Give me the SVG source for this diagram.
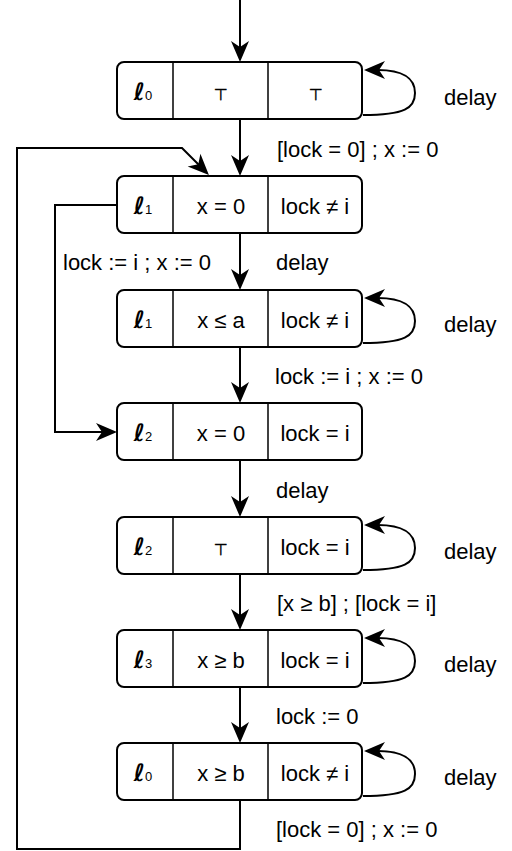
<svg xmlns="http://www.w3.org/2000/svg" width="512" height="851" viewBox="0 0 512 851">
<style>
.box{fill:#fff;stroke:#000;stroke-width:2}
.div{stroke:#000;stroke-width:1.5}
.t{font-family:"Liberation Sans",Arial,sans-serif;font-size:22px;fill:#000}
.m{text-anchor:middle}
.top{font-family:"DejaVu Sans",sans-serif;font-size:16px;text-anchor:middle;fill:#000;stroke:#000;stroke-width:0.4}
.ell{font-family:"DejaVu Sans",sans-serif;font-size:24px;font-style:italic;font-weight:bold;text-anchor:middle;fill:#000}
.sub{font-family:"Liberation Sans",Arial,sans-serif;font-size:13px;font-style:normal;font-weight:normal}
.e{fill:none;stroke:#000;stroke-width:2}
</style>
<defs>
<marker id="a" viewBox="-22 -10 23 20" markerWidth="23" markerHeight="20" refX="-14" refY="0" orient="auto" markerUnits="userSpaceOnUse">
<path d="M0,0 L-21,-9 L-15,0 L-21,9 Z" fill="#000"/>
</marker>
</defs>
<g id="connectors">
<path class="e" d="M240,0 V48" marker-end="url(#a)"/>
<path class="e" d="M240,119 V162" marker-end="url(#a)"/>
<path class="e" d="M240,233 V276" marker-end="url(#a)"/>
<path class="e" d="M240,347 V389" marker-end="url(#a)"/>
<path class="e" d="M240,460 V503" marker-end="url(#a)"/>
<path class="e" d="M240,574 V616" marker-end="url(#a)"/>
<path class="e" d="M240,687 V729" marker-end="url(#a)"/>
<path class="e" d="M240,800 V849 H17 V148 H182 L199,165" marker-end="url(#a)"/>
<path class="e" d="M117,205 H55 V432 H103" marker-end="url(#a)"/>
<path class="e" d="M363,115 C405,115 415,108 415,93 C415,78 402,70 378,70" marker-end="url(#a)"/>
<path class="e" d="M363,343 C405,343 415,336 415,321 C415,306 402,298 378,298" marker-end="url(#a)"/>
<path class="e" d="M363,570 C405,570 415,563 415,548 C415,533 402,525 378,525" marker-end="url(#a)"/>
<path class="e" d="M363,683 C405,683 415,676 415,661 C415,646 402,638 378,638" marker-end="url(#a)"/>
<path class="e" d="M363,796 C405,796 415,789 415,774 C415,759 402,751 378,751" marker-end="url(#a)"/>
<text class="t" x="277" y="157">[lock = 0] ; x := 0</text>
<text class="t" x="63" y="270">lock := i ; x := 0</text>
<text class="t" x="276" y="270">delay</text>
<text class="t" x="275" y="384">lock := i ; x := 0</text>
<text class="t" x="276" y="498">delay</text>
<text class="t" x="277" y="611">[x ≥ b] ; [lock = i]</text>
<text class="t" x="276" y="724">lock := 0</text>
<text class="t" x="276" y="837">[lock = 0] ; x := 0</text>
<text class="t" x="444" y="105">delay</text>
<text class="t" x="444" y="332">delay</text>
<text class="t" x="444" y="559">delay</text>
<text class="t" x="444" y="672">delay</text>
<text class="t" x="444" y="785">delay</text>
</g>
<g id="n1">
<rect class="box" x="117" y="62" width="245" height="57" rx="7"/>
<line class="div" x1="173" y1="62" x2="173" y2="119"/><line class="div" x1="268" y1="62" x2="268" y2="119"/>
<text class="ell" x="143" y="100">ℓ<tspan class="sub">0</tspan></text>
<text class="top" x="221" y="100">⊤</text>
<text class="top" x="316" y="100">⊤</text>
</g>
<g id="n2">
<rect class="box" x="117" y="176" width="245" height="57" rx="7"/>
<line class="div" x1="173" y1="176" x2="173" y2="233"/><line class="div" x1="268" y1="176" x2="268" y2="233"/>
<text class="ell" x="143" y="214">ℓ<tspan class="sub">1</tspan></text>
<text class="t m" x="221" y="214">x = 0</text>
<text class="t m" x="315" y="214">lock ≠ i</text>
</g>
<g id="n3">
<rect class="box" x="117" y="290" width="245" height="57" rx="7"/>
<line class="div" x1="173" y1="290" x2="173" y2="347"/><line class="div" x1="268" y1="290" x2="268" y2="347"/>
<text class="ell" x="143" y="328">ℓ<tspan class="sub">1</tspan></text>
<text class="t m" x="221" y="328">x ≤ a</text>
<text class="t m" x="315" y="328">lock ≠ i</text>
</g>
<g id="n4">
<rect class="box" x="117" y="403" width="245" height="57" rx="7"/>
<line class="div" x1="173" y1="403" x2="173" y2="460"/><line class="div" x1="268" y1="403" x2="268" y2="460"/>
<text class="ell" x="143" y="441">ℓ<tspan class="sub">2</tspan></text>
<text class="t m" x="221" y="441">x = 0</text>
<text class="t m" x="315" y="441">lock = i</text>
</g>
<g id="n5">
<rect class="box" x="117" y="517" width="245" height="57" rx="7"/>
<line class="div" x1="173" y1="517" x2="173" y2="574"/><line class="div" x1="268" y1="517" x2="268" y2="574"/>
<text class="ell" x="143" y="555">ℓ<tspan class="sub">2</tspan></text>
<text class="top" x="221" y="555">⊤</text>
<text class="t m" x="315" y="555">lock = i</text>
</g>
<g id="n6">
<rect class="box" x="117" y="630" width="245" height="57" rx="7"/>
<line class="div" x1="173" y1="630" x2="173" y2="687"/><line class="div" x1="268" y1="630" x2="268" y2="687"/>
<text class="ell" x="143" y="668">ℓ<tspan class="sub">3</tspan></text>
<text class="t m" x="221" y="668">x ≥ b</text>
<text class="t m" x="315" y="668">lock = i</text>
</g>
<g id="n7">
<rect class="box" x="117" y="743" width="245" height="57" rx="7"/>
<line class="div" x1="173" y1="743" x2="173" y2="800"/><line class="div" x1="268" y1="743" x2="268" y2="800"/>
<text class="ell" x="143" y="781">ℓ<tspan class="sub">0</tspan></text>
<text class="t m" x="221" y="781">x ≥ b</text>
<text class="t m" x="315" y="781">lock ≠ i</text>
</g>
</svg>
